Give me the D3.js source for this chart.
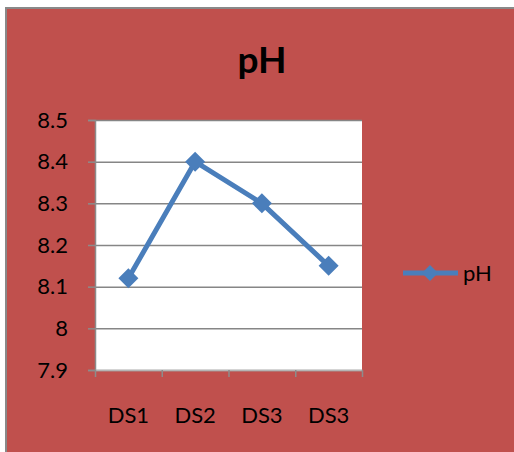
<!DOCTYPE html>
<html>
<head>
<meta charset="utf-8">
<script src="https://cdn.jsdelivr.net/npm/d3@7"></script>
<style>
body { margin: 0; background: #fff; }
svg { display: block; }
text { font-family: Lato, "Open Sans", sans-serif; fill: #000; }
</style>
</head>
<body>
<svg id="chart" width="514" height="452"></svg>
<script>
var categories = ["DS1", "DS2", "DS3", "DS3"];
var phValues = [8.12, 8.4, 8.3, 8.15];
var yTicks = [7.9, 8, 8.1, 8.2, 8.3, 8.4, 8.5];
var yTickLabels = ["7.9", "8", "8.1", "8.2", "8.3", "8.4", "8.5"];
var seriesName = "pH";

var svg = d3.select("#chart"),
    plot = {left: 95, top: 120, right: 362, bottom: 370};

// chart background with grey outer border (only top/left visible)
svg.append("rect")
    .attr("x", 6).attr("y", 8)
    .attr("width", 530).attr("height", 470)
    .attr("fill", "#c0504d")
    .attr("stroke", "#898989")
    .attr("stroke-width", 2);

svg.append("rect")
    .attr("x", plot.left).attr("y", plot.top)
    .attr("width", plot.right - plot.left).attr("height", plot.bottom - plot.top)
    .attr("fill", "#fff");

var x = d3.scaleBand().domain(d3.range(categories.length)).range([plot.left, plot.right]),
    xEdge = d3.scaleLinear().domain([0, categories.length]).range([plot.left, plot.right]),
    y = d3.scaleLinear().domain([7.9, 8.5]).range([plot.bottom, plot.top]);

// gridlines
var grid = svg.append("g")
    .attr("transform", "translate(" + plot.left + ",0)")
    .call(d3.axisLeft(y).tickValues(yTicks).tickSize(-(plot.right - plot.left)).tickFormat(""));
grid.select(".domain").remove();
grid.selectAll("line").attr("stroke", "#868686").attr("stroke-width", 1.5);

// y axis
var yAxis = svg.append("g")
    .attr("transform", "translate(" + plot.left + ",0)")
    .call(d3.axisLeft(y).tickValues(yTicks).tickSize(7).tickPadding(20)
        .tickFormat(function(d, i) { return yTickLabels[i]; }));
yAxis.select(".domain").attr("stroke", "#8c8c8c").attr("stroke-width", 1.5);
yAxis.selectAll("line").attr("stroke", "#8c8c8c").attr("stroke-width", 1.5);
yAxis.selectAll("text").style("font-size", "22px").attr("fill", "#000");

// x axis ticks at band edges
var xAxis = svg.append("g")
    .attr("transform", "translate(0," + plot.bottom + ")")
    .call(d3.axisBottom(xEdge).tickValues(d3.range(categories.length + 1)).tickSize(7).tickSizeOuter(0).tickFormat(""));
xAxis.select(".domain").attr("stroke", "#b4b4b4").attr("stroke-width", 1.5);
xAxis.selectAll("line").attr("stroke", "#8c8c8c").attr("stroke-width", 1.5);

var xLabels = svg.append("g")
    .attr("transform", "translate(0," + plot.bottom + ")")
    .call(d3.axisBottom(x).tickSize(0).tickPadding(37)
        .tickFormat(function(i) { return categories[i]; }));
xLabels.select(".domain").remove();
xLabels.selectAll("text").style("font-size", "22px").attr("fill", "#000");

// series line
var line = d3.line()
    .x(function(d, i) { return x(i) + x.bandwidth() / 2; })
    .y(function(d) { return y(d); });

svg.append("path")
    .datum(phValues)
    .attr("d", line)
    .attr("fill", "none")
    .attr("stroke", "#4a7ebb")
    .attr("stroke-width", 5)
    .attr("stroke-linejoin", "round");

var diamond = d3.symbol().type(d3.symbolSquare).size(200);

svg.selectAll(".marker")
    .data(phValues)
    .enter().append("path")
    .attr("class", "marker")
    .attr("d", diamond)
    .attr("fill", "#4a7ebb")
    .attr("transform", function(d, i) {
        return "translate(" + (x(i) + x.bandwidth() / 2) + "," + y(d) + ") rotate(45)";
    });

// title
svg.append("text")
    .attr("x", 262).attr("y", 73)
    .attr("text-anchor", "middle")
    .style("font-size", "37px")
    .style("font-weight", "bold")
    .text(seriesName);

// legend
var legend = svg.append("g").attr("transform", "translate(403,273)");
legend.append("line")
    .attr("x1", 0).attr("x2", 55)
    .attr("stroke", "#4a7ebb").attr("stroke-width", 5);
legend.append("path")
    .attr("d", d3.symbol().type(d3.symbolSquare).size(130))
    .attr("fill", "#4a7ebb")
    .attr("transform", "translate(27,0) rotate(45)");
legend.append("text")
    .attr("x", 60).attr("y", 8)
    .style("font-size", "22px")
    .text(seriesName);
</script>
</body>
</html>
